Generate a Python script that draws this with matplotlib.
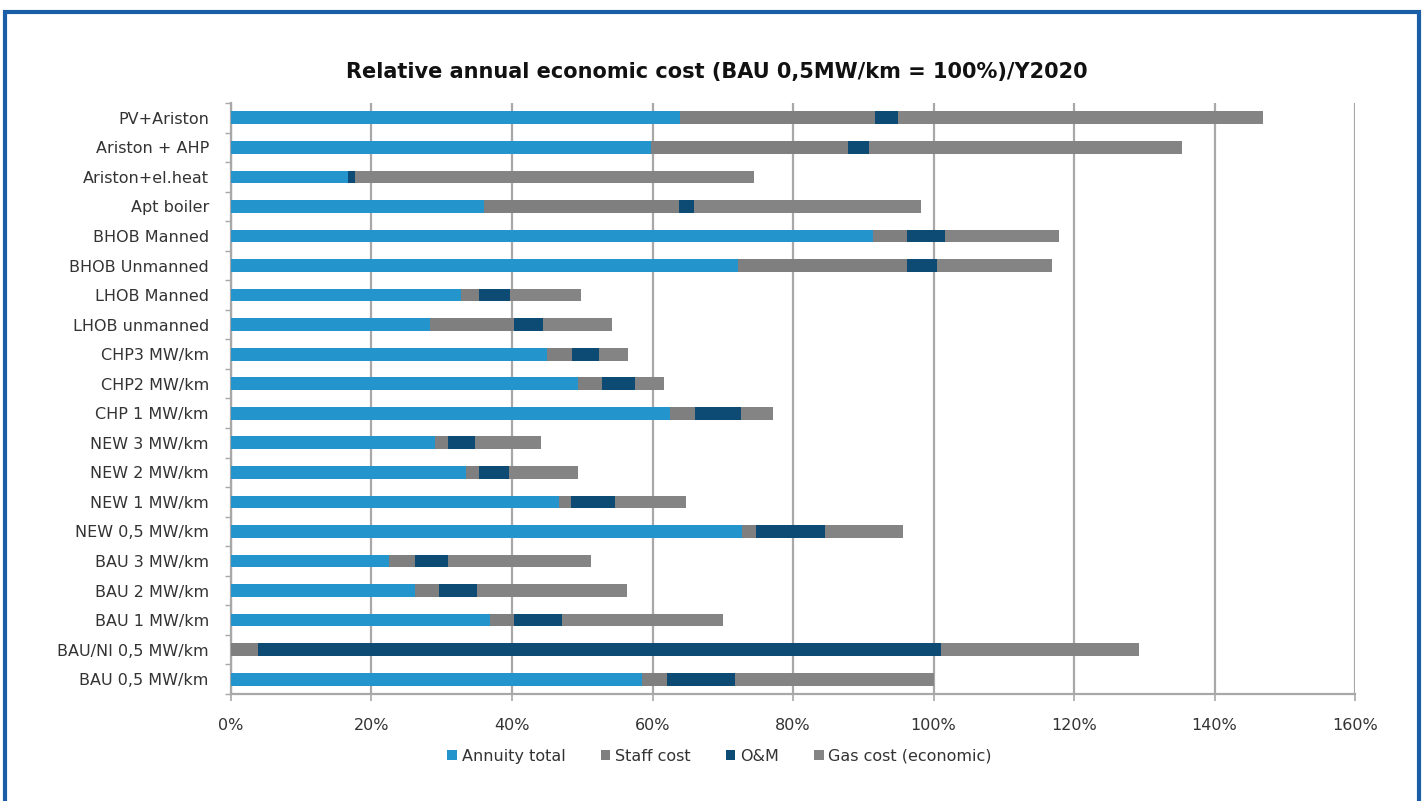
import numpy as np
import matplotlib
matplotlib.use("Agg")
import matplotlib.pyplot as plt
from matplotlib.patches import Rectangle
from matplotlib.ticker import PercentFormatter

# categories listed bottom -> top (as barh draws them)
categories = [
    "BAU 0,5 MW/km", "BAU/NI 0,5 MW/km", "BAU 1 MW/km", "BAU 2 MW/km",
    "BAU 3 MW/km", "NEW 0,5 MW/km", "NEW 1 MW/km", "NEW 2 MW/km",
    "NEW 3 MW/km", "CHP 1 MW/km", "CHP2 MW/km", "CHP3 MW/km",
    "LHOB unmanned", "LHOB Manned", "BHOB Unmanned", "BHOB Manned",
    "Apt boiler", "Ariston+el.heat", "Ariston + AHP", "PV+Ariston",
]

annuity = [58.5, 0.0, 36.9, 26.2, 22.5, 72.8, 46.7, 33.4, 29.1, 62.5,
           49.4, 45.0, 28.3, 32.8, 72.1, 91.4, 36.0, 16.6, 59.8, 63.9]
staff = [3.5, 3.8, 3.4, 3.4, 3.7, 1.9, 1.7, 1.9, 1.8, 3.6,
         3.4, 3.6, 12.0, 2.5, 24.1, 4.8, 27.8, 0.0, 28.0, 27.8]
om = [9.8, 97.3, 6.8, 5.4, 4.7, 9.8, 6.3, 4.3, 3.8, 6.5,
      4.7, 3.8, 4.1, 4.4, 4.3, 5.4, 2.1, 1.0, 3.0, 3.2]
gas = [28.2, 28.2, 22.9, 21.3, 20.4, 11.1, 10.0, 9.8, 9.4, 4.5,
       4.2, 4.1, 9.9, 10.1, 16.3, 16.3, 32.3, 56.9, 44.5, 52.0]

series_names = ["Annuity total", "Staff cost", "O&M", "Gas cost (economic)"]
colors = ["#2394cc", "#7f7f7f", "#0d4a74", "#848484"]

fig = plt.figure(figsize=(14.25, 8.01), dpi=100)
ax = fig.add_axes([0.1621, 0.1336, 0.7888, 0.7378])

y = np.arange(len(categories))
left = np.zeros(len(categories))
handles = []
for vals, name, col in zip([annuity, staff, om, gas], series_names, colors):
    b = ax.barh(y, vals, left=left, height=0.43, color=col, label=name, zorder=3)
    handles.append(b)
    left = left + np.array(vals)

ax.set_xlim(0, 160)
ax.set_ylim(-0.5, len(categories) - 0.5)
ax.set_xticks(np.arange(0, 161, 20))
ax.xaxis.set_major_formatter(PercentFormatter(xmax=100, decimals=0))
ax.set_yticks(y)
ax.set_yticklabels(categories)
ax.set_yticks(np.arange(-0.5, len(categories), 1), minor=True)

grid_col = "#a8a8a8"
ax.grid(axis="x", color=grid_col, linewidth=1.6, zorder=0)
ax.set_axisbelow(True)
for s in ["top", "right"]:
    ax.spines[s].set_visible(False)
for s in ["left", "bottom"]:
    ax.spines[s].set_color(grid_col)
    ax.spines[s].set_linewidth(1.6)

ax.tick_params(axis="y", which="major", length=0, pad=16, labelsize=11.5, labelcolor="#333333")
ax.tick_params(axis="y", which="minor", length=4, color=grid_col, width=1)
ax.tick_params(axis="x", which="major", length=5, color=grid_col, width=1.2,
               pad=12, labelsize=11.5, labelcolor="#333333")

fig.text(0.503, 0.910, "Relative annual economic cost (BAU 0,5MW/km = 100%)/Y2020",
         ha="center", va="center", fontsize=15, fontweight="bold", color="#111111")

fig.legend(handles=handles, labels=series_names, loc="center",
           bbox_to_anchor=(0.505, 0.056), ncol=4, frameon=False,
           fontsize=11.5, handlelength=0.6, handleheight=0.6,
           handletextpad=0.3, columnspacing=2.2, labelcolor="#333333")

# blue frame around the figure
fig.add_artist(Rectangle((5 / 1425, -0.05), 1414 / 1425, 1.05 - 12 / 801,
                         transform=fig.transFigure, fill=False,
                         edgecolor="#1b5ea8", linewidth=3))

fig.savefig("out.png", dpi=100)
